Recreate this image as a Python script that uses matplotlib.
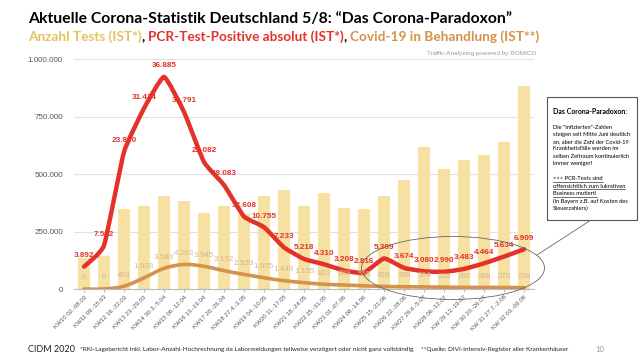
import matplotlib
matplotlib.use("Agg")
import matplotlib.pyplot as plt
import numpy as np
from matplotlib.path import Path
from matplotlib.patches import PathPatch, Ellipse, Rectangle
from matplotlib.lines import Line2D
from matplotlib.ticker import FuncFormatter

plt.rcParams['font.family'] = ['Liberation Sans', 'DejaVu Sans']

weeks = ["KW10 02.-08.03", "KW11 09.-15.03", "KW12 16.-22.03", "KW13 23.-29.03",
         "KW14 30.3.-5.04", "KW15 06.-12.04", "KW16 13.-19.04", "KW17 20.-26.04",
         "KW18 27.4.-3.05", "KW19 04.-10.05", "KW20 11.-17.05", "KW21 18.-24.05",
         "KW22 25.-31.05", "KW23 01.-07.06", "KW24 08.-14.06", "KW25 15.-21.06",
         "KW26 22.-28.06", "KW27 29.6.-5.07", "KW28 06.-12.07", "KW 29 13.-19.07",
         "KW 30 20.-26.07", "KW 31 27.7.-2.08", "KW 32 03.-09.08"]
tests = [135000, 143000, 348000, 362000, 406000, 381000, 330000, 362000,
         327000, 404000, 430000, 361000, 417000, 352000, 348000, 404000,
         474000, 617000, 522000, 561000, 583000, 640000, 884000]
positives = [3892, 7582, 23820, 31414, 36885, 30791, 22082, 18083, 12608, 10755,
             7233, 5218, 4310, 3208, 2816, 5309, 3674, 3080, 2990, 3483, 4464,
             5634, 6909]
treated = [0, 0, 493, 1928, 3593, 4263, 3945, 3192, 2539, 1955, 1449, 1105, 823,
           689, 555, 439, 398, 364, 316, 282, 268, 270, 238]
yticks = [0, 250000, 500000, 750000, 1000000]

BAR = '#F6E0A2'
RED = '#E4312B'
ORANGE = '#D4924A'
OLABEL = '#D6B592'
GOLD = '#E6C35E'


def de_fmt(v):
    return f"{int(v):,}".replace(",", ".")


def smooth(ax, xs, ys, k=6.0, **kw):
    pts = np.column_stack([xs, ys]).astype(float)
    n = len(pts)
    verts = [pts[0]]
    codes = [Path.MOVETO]
    for i in range(n - 1):
        p0 = pts[i - 1] if i > 0 else pts[i]
        p1, p2 = pts[i], pts[i + 1]
        p3 = pts[i + 2] if i + 2 < n else pts[i + 1]
        verts += [p1 + (p2 - p0) / k, p2 - (p3 - p1) / k, p2]
        codes += [Path.CURVE4] * 3
    ax.add_patch(PathPatch(Path(verts, codes), fill=False, **kw))


fig = plt.figure(figsize=(6.4, 3.6), dpi=100)
ax = fig.add_axes([74 / 640, 1 - 289 / 360, 460 / 640, 230 / 360])
x = np.arange(len(weeks))
ax.bar(x, tests, width=0.62, color=BAR, zorder=2)
ax.set_xlim(-0.5, len(weeks) - 0.5)
ax.set_ylim(0, 1000000)
ax.set_yticks(yticks)
ax.yaxis.set_major_formatter(FuncFormatter(lambda v, p: de_fmt(v)))
ax.tick_params(axis='y', length=0, labelsize=5.8, labelcolor='#555555', pad=8)
ax.grid(axis='y', color='#E2E2E2', lw=0.8, zorder=0)
ax.set_axisbelow(True)
for s in ['top', 'right', 'left']:
    ax.spines[s].set_visible(False)
ax.spines['bottom'].set_color('#BBBBBB')
ax.spines['bottom'].set_linewidth(0.8)
ax.set_xticks(x)
ax.set_xticklabels(weeks, rotation=45, ha='right', rotation_mode='anchor',
                   fontsize=4.4, color='#555555')
ax.tick_params(axis='x', length=2, color='#BBBBBB', pad=2)

ax2 = ax.twinx()
ax2.set_ylim(0, 40000)
ax2.set_xlim(-0.5, len(weeks) - 0.5)
ax2.axis('off')
smooth(ax2, x, treated, k=6.0, edgecolor=ORANGE, lw=2.6, zorder=3, capstyle='round')
smooth(ax2, x, positives, k=14.0, edgecolor=RED, lw=3.2, zorder=4, capstyle='round',
       joinstyle='round')
for xi, v in zip(x, treated):
    ax2.annotate(de_fmt(v), (xi, v), xytext=(0, 8), textcoords='offset points',
                 ha='center', va='center', fontsize=5.8, color=OLABEL, zorder=5)
for xi, v in zip(x, positives):
    ax2.annotate(de_fmt(v), (xi, v), xytext=(0, 8), textcoords='offset points',
                 ha='center', va='center', fontsize=5.9, color=RED,
                 fontweight='bold', zorder=6)

# Titles
tfam = ['Lato', 'DejaVu Sans']
fig.text(28 / 640, 1 - 19 / 360, "Aktuelle Corona-Statistik Deutschland 5/8: \u201cDas Corona-Paradoxon\u201d",
         fontsize=11.3, fontweight='bold', family=tfam, color='black', va='center')
parts = [("Anzahl Tests (IST*)", GOLD), (", ", 'black'),
         ("PCR-Test-Positive absolut (IST*)", RED), (", ", 'black'),
         ("Covid-19 in Behandlung (IST**)", ORANGE)]
renderer = fig.canvas.get_renderer()
xpos = 28
for txt, col in parts:
    t = fig.text(xpos / 640, 1 - 37 / 360, txt, fontsize=9.85, fontweight='bold',
                 family=tfam, color=col, va='center')
    bb = t.get_window_extent(renderer=renderer)
    xpos += bb.width
fig.text(536 / 640, 1 - 54 / 360, "Traffic-Analyzing powered by ROMICO", fontsize=4.6,
         color='#999999', ha='right', va='center')

# Footer
fig.text(28 / 640, 1 - 350 / 360, "CIDM 2020", fontsize=6.5, family=tfam,
         color='#222222', va='center')
fig.text(80 / 640, 1 - 349 / 360,
         "*RKI-Lagebericht inkl. Labor-Anzahl-Hochrechnung da Labormeldungen teilweise verz\u00f6gert oder nicht ganz vollst\u00e4ndig",
         fontsize=4.6, family=tfam, color='#222222', va='center')
fig.text(421 / 640, 1 - 349 / 360, "**Quelle: DIVI-Intensiv-Register aller Krankenh\u00e4user",
         fontsize=4.6, family=tfam, color='#222222', va='center')
fig.text(595 / 640, 1 - 349 / 360, "10", fontsize=5.5, family=tfam, color='#999999', va='center')

# Ellipse and connector
fig.add_artist(Ellipse((453 / 640, 1 - 268 / 360), 183 / 640, 63 / 360,
                       transform=fig.transFigure, fill=False, edgecolor='#666666', lw=0.6,
                       zorder=10))
fig.add_artist(Line2D([537 / 640, 591 / 640], [1 - 255 / 360, 1 - 220 / 360],
                      transform=fig.transFigure, color='#666666', lw=0.6))

# Text box
fig.add_artist(Rectangle((547 / 640, 1 - 220 / 360), 90 / 640, 123 / 360,
                         transform=fig.transFigure, fill=True, facecolor='white',
                         edgecolor='#555555', lw=0.8, zorder=10))
bx = 553 / 640
fig.text(bx, 1 - 111 / 360, "Das Corona-Paradoxon:", fontsize=5.0, fontweight='bold',
         family=tfam, va='center', zorder=11)
lines = ["Die \"Infizierten\"-Zahlen", "steigen seit Mitte Juni deutlich",
         "an, aber die Zahl der Covid-19", "Krankheitsf\u00e4lle werden im",
         "selben Zeitraum kontinuierlich", "immer weniger!"]
y0 = 127
for i, ln in enumerate(lines):
    fig.text(bx, 1 - (y0 + i * 7.3) / 360, ln, fontsize=4.15, family=tfam, va='center', zorder=11)
ul = [">>> PCR-Tests sind", "offensichtlich zum lukrativen", "Business mutiert!"]
y1 = 179
for i, ln in enumerate(ul):
    t = fig.text(bx, 1 - (y1 + i * 7.3) / 360, ln, fontsize=4.15, family=tfam,
                 va='center', zorder=11)
    bb = t.get_window_extent(renderer=renderer)
    yy = 1 - (y1 + i * 7.3 + 3) / 360
    fig.add_artist(Line2D([bx, bx + bb.width / 640], [yy, yy], transform=fig.transFigure,
                          color='black', lw=0.4, zorder=11))
for i, ln in enumerate(["(in Bayern z.B. auf Kosten des", "Steuerzahlers)"]):
    fig.text(bx, 1 - (y1 + (3 + i) * 7.3) / 360, ln, fontsize=4.15, family=tfam,
             va='center', zorder=11)

fig.savefig("out.png", dpi=100, facecolor='white')
